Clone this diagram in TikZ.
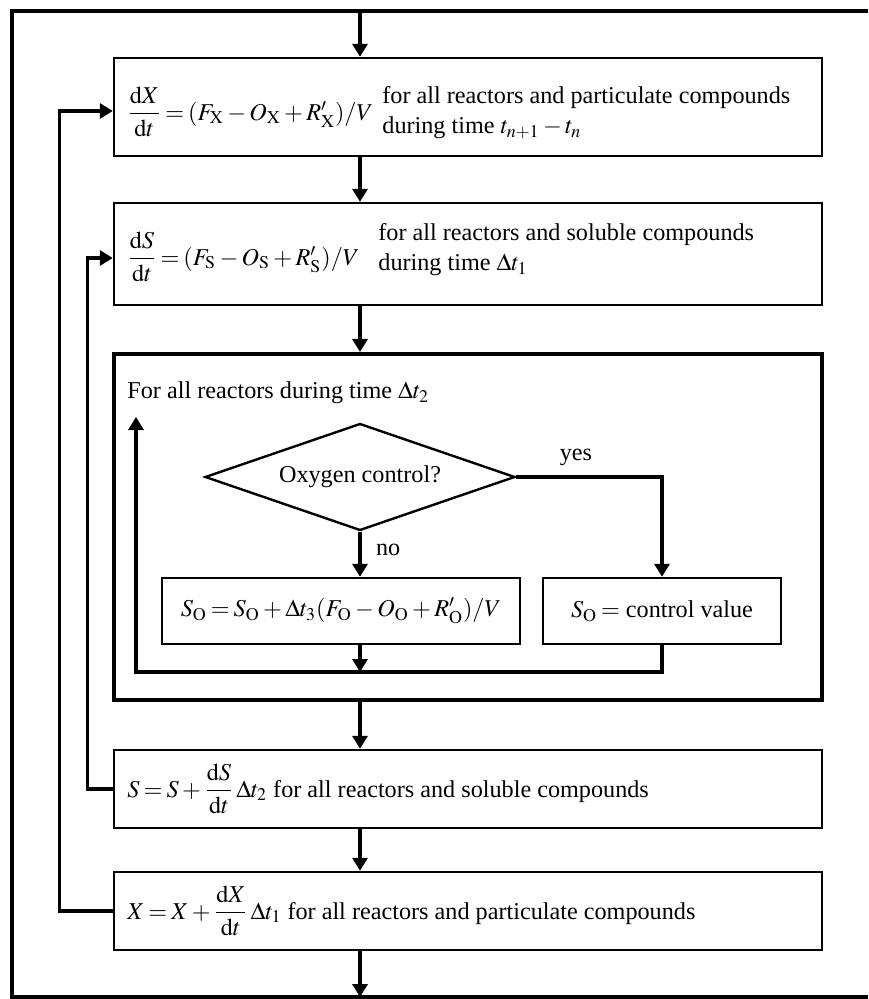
\documentclass[tikz,border=0pt]{standalone}
\usepackage{amsmath}
\usepackage{mathptmx}
\usepackage[no-math]{fontspec}
\setmainfont{Liberation Serif}
\usetikzlibrary{arrows.meta,shapes.geometric}
\newcommand{\tightmu}{\thickmuskip=3mu\relax\medmuskip=2.5mu\relax}

\begin{document}
\begin{tikzpicture}[x=0.5pt, y=-0.5pt, >={Triangle[length=6.5pt,width=7.5pt]},
    box/.style={draw, line width=1.2pt, inner sep=0pt},
    flow/.style={line width=1.6pt},
    txt/.style={anchor=west, inner sep=0pt, align=left},
    every node/.style={font=\fontsize{12.1}{15}\selectfont}]
    \useasboundingbox (0,0) rectangle (868,999);

    % Outer loop frame (open on the right)
    \draw[flow] (868,11) -- (12,11) -- (12,997) -- (868,997);
    \coordinate (start) at (360,11);
    \coordinate (finish) at (360,997);

    % Rates of particulate compounds
    \node[box, minimum width=354pt, minimum height=49pt] (rateX) at (468,107) {};
    \node[txt] (rateXeq) at (127,112) {$\tightmu\dfrac{\mathrm{d}X}{\mathrm{d}t}=(F_{\mathrm{X}}-O_{\mathrm{X}}+R'_{\mathrm{X}})/V$};
    \node[txt] (rateXtxt) at (382,113) {for all reactors and particulate compounds\\during time $\tightmu t_{n+1}-t_n$};

    % Rates of soluble compounds
    \node[box, minimum width=354pt, minimum height=51pt] (rateS) at (468,254) {};
    \node[txt] (rateSeq) at (127,257) {$\tightmu\dfrac{\mathrm{d}S}{\mathrm{d}t}=(F_{\mathrm{S}}-O_{\mathrm{S}}+R'_{\mathrm{S}})/V$};
    \node[txt] (rateStxt) at (378,250) {for all reactors and soluble compounds\\during time $\Delta t_1$};

    % Oxygen block
    \node[box, line width=2pt, minimum width=354pt, minimum height=173pt] (oxy) at (468,527) {};
    \node[txt] (oxyhead) at (127,393) {For all reactors during time $\Delta t_2$};
    \node[draw, diamond, aspect=3, line width=1.2pt, inner sep=0pt, minimum width=155pt, minimum height=53.5pt] (ctrl) at (360,477) {Oxygen control?};
    \node[box, minimum width=179pt, minimum height=33pt] (calcO) at (341,611) {$\tightmu S_{\mathrm{O}}=S_{\mathrm{O}}+\Delta t_3(F_{\mathrm{O}}-O_{\mathrm{O}}+R'_{\mathrm{O}})/V$};
    \node[box, minimum width=119pt, minimum height=33pt] (fixO) at (662,611) {$\tightmu S_{\mathrm{O}}=$ control value};
    \node (yes) at (576,457) {yes};
    \node[anchor=west] (no) at (369,550) {no};
    \coordinate (loopR) at (662,672);
    \coordinate (loopL) at (136,672);
    \coordinate (loopT) at (136,417);

    \draw[flow, ->] (ctrl.east) -| (fixO.north);
    \draw[flow, ->] (ctrl.south) -- (ctrl.south |- calcO.north);
    \draw[flow, ->] (ctrl.south |- calcO.south) -- (ctrl.south |- loopL);
    \draw[flow, ->] (fixO.south) -- (loopR) -- (loopL) -- (loopT);

    % Update boxes
    \node[box, minimum width=354pt, minimum height=39pt] (updS) at (468,789) {};
    \node[txt] (updStxt) at (127,789) {$\tightmu S=S+\dfrac{\mathrm{d}S}{\mathrm{d}t}\,\Delta t_2$ for all reactors and soluble compounds};
    \node[box, minimum width=354pt, minimum height=39pt] (updX) at (468,911) {};
    \node[txt] (updXtxt) at (127,911) {$\tightmu X=X+\dfrac{\mathrm{d}X}{\mathrm{d}t}\,\Delta t_1$ for all reactors and particulate compounds};

    % Main flow
    \draw[flow, ->] (start) -- (start |- rateX.north);
    \draw[flow, ->] (start |- rateX.south) -- (start |- rateS.north);
    \draw[flow, ->] (start |- rateS.south) -- (start |- oxy.north);
    \draw[flow, ->] (start |- oxy.south) -- (start |- updS.north);
    \draw[flow, ->] (start |- updS.south) -- (start |- updX.north);
    \draw[flow, ->] (start |- updX.south) -- (finish);

    % Feedback loops
    \draw[flow, ->] (updS.west) -- ++(-25,0) |- ([yshift=-2pt]rateS.west);
    \draw[flow, ->] (updX.west) -- ++(-53,0) |- ([yshift=-2pt]rateX.west);
\end{tikzpicture}
\end{document}
